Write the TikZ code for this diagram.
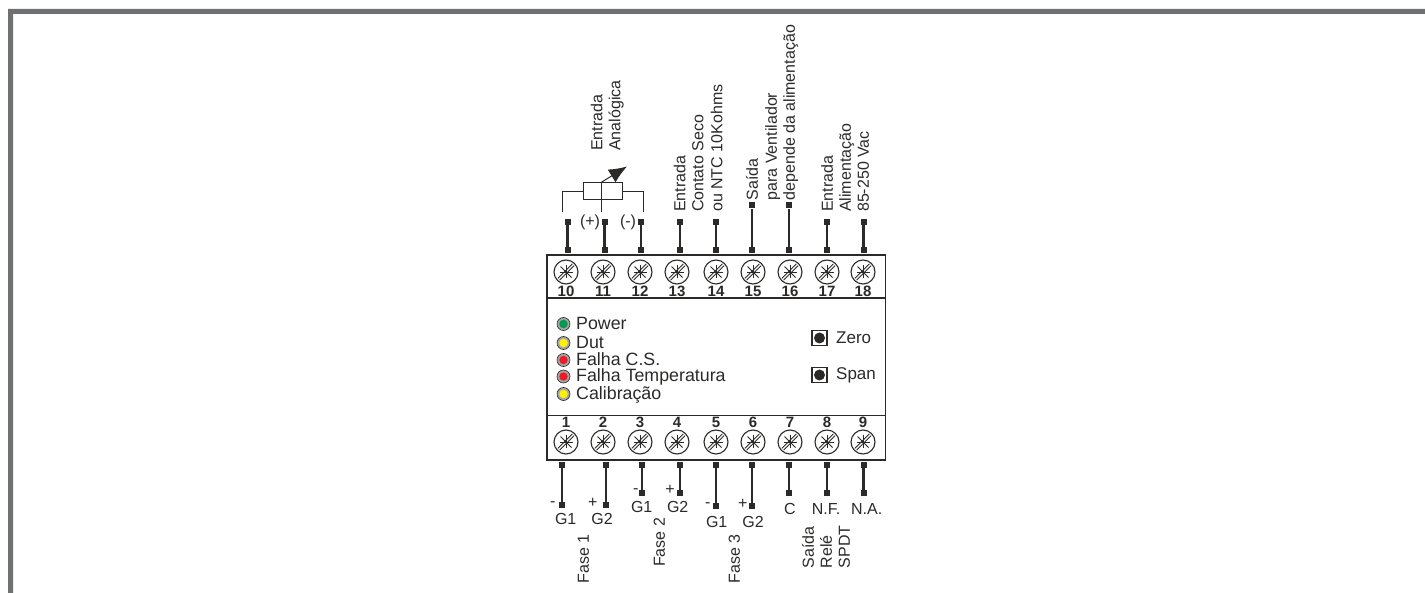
\documentclass[tikz,border=0pt]{standalone}
\usepackage{fontspec}
\setmainfont{Liberation Sans}
\usetikzlibrary{arrows.meta,calc}
\definecolor{ink}{HTML}{2B2A29}
\definecolor{framegray}{HTML}{6F7071}
\definecolor{ledgreen}{HTML}{009A4E}
\definecolor{ledyellow}{HTML}{FFF200}
\definecolor{ledred}{HTML}{ED1C24}
\tikzset{
	txt/.style={inner sep=0pt, text=ink, font=\fontsize{16}{16}\selectfont},
	vtxt/.style={txt, rotate=90, anchor=west, text height=11.5pt, text depth=0pt},
	num/.style={inner sep=0pt, text=ink, font=\fontsize{15}{15}\selectfont\bfseries},
	ledring/.style={circle, draw=ink, line width=.6pt, fill=black!35, inner sep=0pt, minimum size=13pt},
	led/.style={circle, inner sep=0pt, minimum size=8.5pt},
	pin/.style={rectangle, fill=ink, inner sep=0pt, minimum size=6pt},
	wire/.style={ink, line width=2.4pt},
	thinline/.style={ink, line width=1pt},
	screw/.style={circle, draw=ink, line width=1.1pt, inner sep=0pt, minimum size=24pt},
	btn/.style={rectangle, draw=ink, line width=1.4pt, fill=white, inner sep=0pt, minimum size=15pt},
}
\newcommand{\screwmark}[1]{
	\draw[ink, line width=.8pt] ($(#1)+(-8.2,6.4)$) -- ($(#1)+(6.4,-8.2)$);
	\draw[ink, line width=.8pt] ($(#1)+(-6.4,8.2)$) -- ($(#1)+(8.2,-6.4)$);
	\draw[ink, line width=.8pt] ($(#1)+(-5.5,-5.5)$) -- ($(#1)+(5.5,5.5)$);
	\draw[ink, line width=.8pt] ($(#1)+(-6.5,0)$) -- ($(#1)+(6.5,0)$);
	\draw[ink, line width=.8pt] ($(#1)+(0,-6.5)$) -- ($(#1)+(0,6.5)$);
}
\begin{document}
\begin{tikzpicture}[x=1pt,y=-1pt]
	\useasboundingbox (0,0) rectangle (1425,593);
	% frame
	\fill[framegray] (8,593) -- (8,9) -- (1425,9) -- (1425,14) -- (13,14) -- (13,593) -- cycle;

	% housing
	\node[inner sep=0pt] (boxtl) at (547,255) {};
	\node[inner sep=0pt] (boxbr) at (885.5,460) {};
	\draw[ink, line width=1.5pt] (boxtl.center) rectangle (boxbr.center);
	\draw[ink, line width=1.3pt] (547,298) -- (885.5,298);
	\draw[ink, line width=1.3pt] (547,415.5) -- (885.5,415.5);

	% terminals on top
	\foreach \num/\posx/\pinx/\ytop in {10/566/567.5/222,11/603/604.5/222,12/640/641/222,13/677/680/222,14/716/716/222,15/753/752/205.5,16/790/789/205.5,17/827/827/222,18/863/863.5/222}{
		\node[screw] (S\num) at (\posx,272) {};
		\screwmark{S\num}
		\node[num] (N\num) at (\posx,291.5) {\num};
		\node[pin] (PA\num) at (\pinx,250) {};
		\node[pin] (PB\num) at (\pinx,\ytop) {};
		\draw[wire] (PA\num) -- (PB\num);
	}

	% terminals below
	\foreach \num/\posx/\pinx/\ybot in {1/566/562/505,2/603/606/505,3/640/642/493,4/677/680/493,5/716/716/506,6/753/752/506,7/790/789/493,8/827/827/493,9/863/863.5/493}{
		\node[screw] (S\num) at (\posx,442) {};
		\screwmark{S\num}
		\node[num] (N\num) at (\posx,422.5) {\num};
		\node[pin] (PA\num) at (\pinx,465) {};
		\node[pin] (PB\num) at (\pinx,\ybot) {};
		\draw[wire] (PA\num) -- (PB\num);
	}

	% potentiometer
	\node[rectangle, draw=ink, line width=1pt, inner sep=0pt, minimum width=39.5pt, minimum height=17.5pt] (R) at (603,191.2) {};
	\node[inner sep=0pt] (RL) at (562.5,212) {};
	\node[inner sep=0pt] (RM) at (601,212) {};
	\node[inner sep=0pt] (RR) at (643.5,212) {};
	\node[inner sep=0pt] (RT) at (601,182.5) {};
	\node[inner sep=0pt] (RA) at (627,166.5) {};
	\draw[thinline] (RL.center) |- (R.west);
	\draw[thinline] (RR.center) |- (R.east);
	\draw[thinline] (RM.center) -- (RT.center);
	\draw[thinline, -{Latex[length=18pt,width=15pt]}] (RT.center) -- (RA.center);
	\node[txt] (PLUS) at (590,222) {(+)};
	\node[txt] (MINUS) at (628,222) {(-)};

	% labels on top
	\node[vtxt] (L1) at (596.5,151) {Entrada};
	\node[vtxt] (L2) at (614.5,151) {Analógica};
	\node[vtxt] (L3) at (679.5,212) {Entrada};
	\node[vtxt] (L4) at (697.5,212) {Contato Seco};
	\node[vtxt] (L5) at (716.5,212) {ou NTC 10Kohms};
	\node[vtxt] (L6) at (752,200.5) {Saída};
	\node[vtxt] (L7) at (771,200.5) {para Ventilador};
	\node[vtxt] (L8) at (789,200.5) {depende da alimentação};
	\node[vtxt] (L9) at (827,212) {Entrada};
	\node[vtxt] (L10) at (845,212) {Alimentação};
	\node[vtxt] (L11) at (863,212) {85-250 Vac};

	% leds
	\foreach \name/\ypos/\ybase/\col/\lab in {A/324/330/ledgreen/Power,B/343/349/ledyellow/Dut,C/360/365.7/ledred/Falha C.S.,D/376.5/381.7/ledred/Falha Temperatura,E/394/399.3/ledyellow/Calibração}{
		\node[ledring] (RING\name) at (563.5,\ypos) {};
		\node[led, fill=\col] (LED\name) at (RING\name) {};
		\node[txt, anchor=base west, font=\fontsize{17.8}{17.8}\selectfont] (T\name) at (576,\ybase) {\lab};
	}

	% buttons
	\foreach \name/\ypos/\lab in {Z/338/Zero,Y/375/Span}{
		\node[btn] (B\name) at (819.5,\ypos) {};
		\node[circle, fill=ink, inner sep=0pt, minimum size=11pt] (C\name) at (B\name) {};
		\node[txt, anchor=west, font=\fontsize{17}{17}\selectfont] (T\name) at (836,\ypos) {\lab};
	}

	% labels below
	\node[txt] (M1) at (552.7,504) {-};
	\node[txt] (P1) at (592.7,503) {+};
	\node[txt] (G11) at (565.7,519) {G1};
	\node[txt] (G21) at (602,519) {G2};
	\node[txt] (M2) at (635.7,491) {-};
	\node[txt] (P2) at (670,490) {+};
	\node[txt] (G12) at (641.7,507) {G1};
	\node[txt] (G22) at (677.7,507) {G2};
	\node[txt] (M3) at (707.7,505) {-};
	\node[txt] (P3) at (742.7,504) {+};
	\node[txt] (G13) at (716.7,522) {G1};
	\node[txt] (G23) at (753,522) {G2};
	\node[txt] (LC) at (790,509) {C};
	\node[txt] (LNF) at (826,509) {N.F.};
	\node[txt] (LNA) at (866.7,509) {N.A.};
	\node[vtxt] (F1) at (583,583.5) {Fase 1};
	\node[vtxt] (F2) at (659,567) {Fase 2};
	\node[vtxt] (F3) at (734,583.5) {Fase 3};
	\node[vtxt] (R1) at (808,568.5) {Saída};
	\node[vtxt] (R2) at (826,568.5) {Relé};
	\node[vtxt] (R3) at (844,568.5) {SPDT};
\end{tikzpicture}
\end{document}
